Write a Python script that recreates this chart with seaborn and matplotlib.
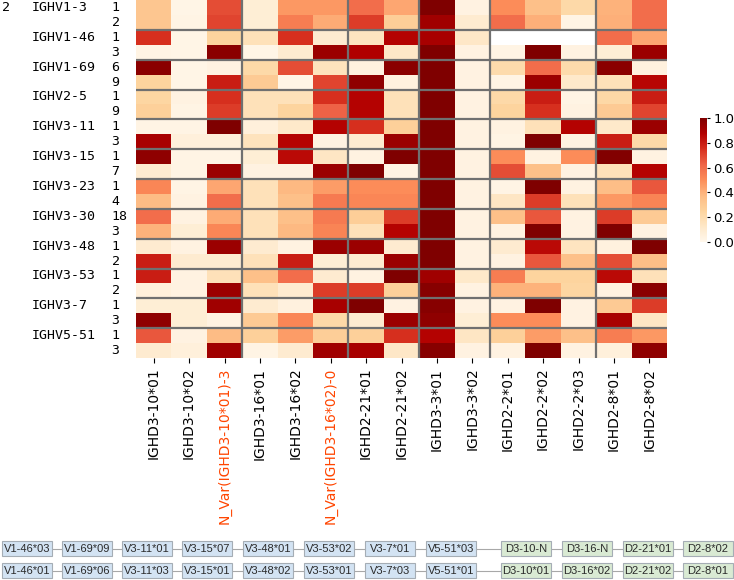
import numpy as np
import pandas as pd
import matplotlib
matplotlib.use("Agg")
import matplotlib.pyplot as plt
import seaborn as sns
from matplotlib.patches import Rectangle
from matplotlib.transforms import blended_transform_factory

columns = ["IGHD3-10*01", "IGHD3-10*02", "N_Var(IGHD3-10*01)-3",
           "IGHD3-16*01", "IGHD3-16*02", "N_Var(IGHD3-16*02)-0",
           "IGHD2-21*01", "IGHD2-21*02", "IGHD3-3*01", "IGHD3-3*02",
           "IGHD2-2*01", "IGHD2-2*02", "IGHD2-2*03", "IGHD2-8*01", "IGHD2-8*02"]
highlight_cols = ["N_Var(IGHD3-10*01)-3", "N_Var(IGHD3-16*02)-0"]

genes = ["IGHV1-3", "IGHV1-46", "IGHV1-69", "IGHV2-5", "IGHV3-11", "IGHV3-15",
         "IGHV3-23", "IGHV3-30", "IGHV3-48", "IGHV3-53", "IGHV3-7", "IGHV5-51"]
alleles = [["1", "2"], ["1", "3"], ["6", "9"], ["1", "9"], ["1", "3"], ["1", "7"],
           ["1", "4"], ["18", "3"], ["1", "2"], ["1", "2"], ["1", "3"], ["1", "3"]]

nan = np.nan
values = [
    [0.32, 0.02, 0.68, 0.08, 0.47, 0.47, 0.60, 0.43, 1.00, 0.04, 0.50, 0.35, 0.22, 0.40, 0.60],
    [0.32, 0.03, 0.70, 0.08, 0.55, 0.42, 0.72, 0.28, 0.92, 0.10, 0.60, 0.41, 0.03, 0.41, 0.60],
    [0.75, 0.02, 0.25, 0.17, 0.75, 0.10, 0.15, 0.87, 0.90, 0.13, nan, nan, nan, 0.60, 0.43],
    [0.03, 0.02, 0.97, 0.02, 0.10, 0.93, 0.88, 0.13, 1.00, 0.04, 0.03, 1.00, 0.04, 0.08, 0.93],
    [0.97, 0.02, 0.04, 0.22, 0.68, 0.16, 0.05, 0.97, 1.00, 0.04, 0.21, 0.60, 0.21, 0.97, 0.05],
    [0.25, 0.02, 0.80, 0.30, 0.02, 0.70, 0.96, 0.05, 1.00, 0.04, 0.03, 0.93, 0.12, 0.17, 0.86],
    [0.24, 0.04, 0.75, 0.17, 0.17, 0.75, 0.87, 0.17, 1.00, 0.04, 0.22, 0.80, 0.03, 0.23, 0.80],
    [0.27, 0.03, 0.72, 0.17, 0.25, 0.63, 0.87, 0.17, 1.00, 0.04, 0.25, 0.75, 0.04, 0.30, 0.70],
    [0.03, 0.03, 1.00, 0.06, 0.12, 0.87, 0.75, 0.27, 1.00, 0.04, 0.04, 0.17, 0.87, 0.12, 0.93],
    [0.90, 0.06, 0.06, 0.16, 0.87, 0.04, 0.10, 0.93, 1.00, 0.04, 0.03, 1.00, 0.04, 0.80, 0.22],
    [0.96, 0.03, 0.03, 0.08, 0.85, 0.14, 0.04, 1.00, 1.00, 0.04, 0.50, 0.04, 0.50, 0.99, 0.04],
    [0.10, 0.03, 0.93, 0.04, 0.04, 0.93, 1.00, 0.03, 1.00, 0.04, 0.68, 0.35, 0.04, 0.17, 0.87],
    [0.52, 0.03, 0.43, 0.17, 0.38, 0.46, 0.50, 0.50, 1.00, 0.04, 0.03, 1.00, 0.04, 0.36, 0.66],
    [0.37, 0.04, 0.60, 0.17, 0.35, 0.56, 0.52, 0.52, 1.00, 0.04, 0.14, 0.72, 0.17, 0.47, 0.53],
    [0.60, 0.04, 0.42, 0.17, 0.35, 0.56, 0.28, 0.72, 1.00, 0.04, 0.35, 0.66, 0.04, 0.72, 0.30],
    [0.40, 0.08, 0.52, 0.17, 0.38, 0.53, 0.17, 0.87, 1.00, 0.04, 0.04, 1.00, 0.04, 1.00, 0.04],
    [0.10, 0.04, 0.93, 0.10, 0.04, 0.93, 0.93, 0.10, 1.00, 0.04, 0.10, 0.85, 0.15, 0.05, 1.00],
    [0.80, 0.10, 0.10, 0.17, 0.80, 0.08, 0.10, 0.93, 1.00, 0.04, 0.04, 0.66, 0.35, 0.68, 0.36],
    [0.80, 0.04, 0.17, 0.35, 0.60, 0.10, 0.04, 1.00, 0.92, 0.12, 0.55, 0.25, 0.25, 0.85, 0.17],
    [0.06, 0.04, 0.93, 0.17, 0.10, 0.72, 0.72, 0.27, 0.98, 0.04, 0.40, 0.40, 0.24, 0.04, 0.97],
    [0.08, 0.08, 0.92, 0.10, 0.05, 0.90, 1.00, 0.04, 0.98, 0.04, 0.04, 1.00, 0.04, 0.30, 0.72],
    [0.96, 0.08, 0.04, 0.30, 0.52, 0.22, 0.10, 0.93, 0.96, 0.08, 0.50, 0.50, 0.04, 0.90, 0.14],
    [0.66, 0.04, 0.37, 0.27, 0.46, 0.28, 0.27, 0.75, 0.87, 0.14, 0.27, 0.46, 0.35, 0.55, 0.47],
    [0.10, 0.06, 0.92, 0.03, 0.10, 0.92, 0.90, 0.13, 0.98, 0.04, 0.04, 1.00, 0.04, 0.06, 0.96],
]
col_group_bounds = [3, 6, 8, 10, 13]

haplo_top = ["V1-46*03", "V1-69*09", "V3-11*01", "V3-15*07", "V3-48*01", "V3-53*02",
             "V3-7*01", "V5-51*03", "D3-10-N", "D3-16-N", "D2-21*01", "D2-8*02"]
haplo_bottom = ["V1-46*01", "V1-69*06", "V3-11*03", "V3-15*01", "V3-48*02", "V3-53*01",
                "V3-7*03", "V5-51*01", "D3-10*01", "D3-16*02", "D2-21*02", "D2-8*01"]

row_index = [f"{g}_{a}" for g, al in zip(genes, alleles) for a in al]
df = pd.DataFrame(values, index=row_index, columns=columns)

W, H = 734, 580
fig = plt.figure(figsize=(W / 100, H / 100), dpi=100)
ax = fig.add_axes([136 / W, 1 - 358 / H, 531 / W, 358 / H])
cax = fig.add_axes([700 / W, 1 - 242 / H, 7 / W, 124 / H])

sns.heatmap(df, ax=ax, cbar_ax=cax, cmap="OrRd", vmin=0, vmax=1,
            xticklabels=True, yticklabels=True)

for y in range(2, len(row_index), 2):
    ax.axhline(y, color="#707070", lw=1.6)
for x in col_group_bounds:
    ax.axvline(x, color="#707070", lw=1.6)

ax.set_xlabel("")
ax.set_ylabel("")
ax.set_xticklabels(columns, rotation=90, fontsize=10, family="DejaVu Sans")
for lab in ax.get_xticklabels():
    if lab.get_text() in highlight_cols:
        lab.set_color("#ff4500")
ax.tick_params(axis="x", length=3.5, width=0.8)

ylabels = [f"{a:<2}" for al in alleles for a in al]
ax.set_yticklabels(ylabels, rotation=0, fontsize=9.5, family="DejaVu Sans Mono")
ax.tick_params(axis="y", length=0, pad=6)

tr = blended_transform_factory(fig.transFigure, ax.transData)
for i, g in enumerate(genes):
    ax.text(32 / W, 2 * i + 0.5, g, transform=tr, ha="left", va="center",
            fontsize=9.5, family="DejaVu Sans Mono")
ax.text(2 / W, 0.5, "2", transform=tr, ha="left", va="center",
        fontsize=9.5, family="DejaVu Sans Mono")

cax.set_yticks([0.0, 0.2, 0.4, 0.6, 0.8, 1.0])
cax.set_yticklabels(["0.0", "0.2", "0.4", "0.6", "0.8", "1.0"])
cax.tick_params(labelsize=9.5, length=2.5, pad=2)

# haplotype boxes at the bottom
bax = fig.add_axes([0, 0, 1, 1], zorder=-1)
bax.set_xlim(0, W)
bax.set_ylim(H, 0)
bax.axis("off")
box_w, box_h = 50, 15
xs = [2, 62, 122, 182, 243, 304, 365, 426, 501, 562, 623, 683]
for row_y, labels in [(541, haplo_top), (563, haplo_bottom)]:
    cy = row_y + box_h / 2
    bax.plot([xs[0] + box_w, xs[-1]], [cy, cy], color="#a8a8a8", lw=0.8, zorder=1)
    for i, (x0, lab) in enumerate(zip(xs, labels)):
        is_v = lab.startswith("V")
        fc = "#d3e3f3" if is_v else "#d9ead3"
        bax.add_patch(Rectangle((x0, row_y), box_w, box_h, facecolor=fc,
                                edgecolor="#a5adb5", lw=0.8, zorder=2))
        bax.text(x0 + box_w / 2, cy, lab, ha="center", va="center",
                 fontsize=8, family="Liberation Sans", color="#2a2a2a", zorder=3)

fig.savefig("out.png", dpi=100)
